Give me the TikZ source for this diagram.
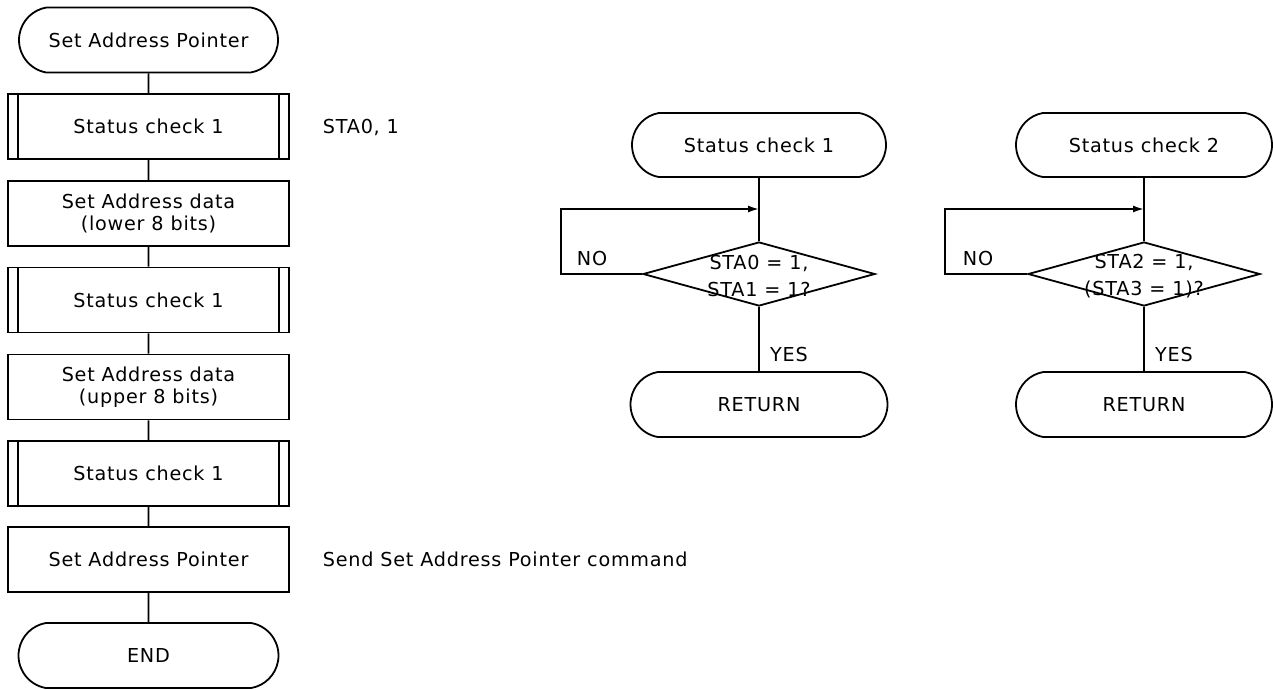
\documentclass[tikz,border=0pt]{standalone}
\usepackage{fontspec}
\setmainfont[LetterSpace=4]{DejaVu Sans}
\usetikzlibrary{shapes.misc,shapes.geometric,arrows.meta}
\begin{document}
\begin{tikzpicture}[x=1pt,y=-1pt,line width=1.8pt,
  every node/.style={font=\fontsize{19.2}{22.5}\selectfont},
  term/.style={draw,rounded rectangle,rounded rectangle arc length=160,minimum width=259pt,minimum height=65pt,inner sep=0pt},
  proc/.style={draw,rectangle,minimum width=281pt,minimum height=65pt,align=center,inner sep=0pt},
  dec/.style={draw,diamond,minimum width=232pt,minimum height=64pt,inner sep=0pt},
  lbl/.style={inner sep=0pt},
  arr/.style={-{Latex[length=11pt,width=7pt]}}]
\useasboundingbox (0,0) rectangle (1273,689);
% left chart
\node[term] (s) at (148.5,40) {Set Address Pointer};
\node[proc] (c1) at (148.5,126.5) {Status check 1};
\node[proc] (d1) at (148.5,213.5) {Set Address data\\(lower 8 bits)};
\node[proc] (c2) at (148.5,300) {Status check 1};
\node[proc] (d2) at (148.5,387) {Set Address data\\(upper 8 bits)};
\node[proc] (c3) at (148.5,473.5) {Status check 1};
\node[proc] (p) at (148.5,559.5) {Set Address Pointer};
\node[term,minimum width=260pt] (e) at (148.5,655.5) {END};
\foreach \n in {c1,c2,c3}{
  \draw ([xshift=11pt]\n.north west) -- ([xshift=11pt]\n.south west)
        ([xshift=-11pt]\n.north east) -- ([xshift=-11pt]\n.south east);
}
\draw (s) -- (c1) -- (d1) -- (c2) -- (d2) -- (c3) -- (p) -- (e);
\node[lbl,anchor=west] (a1) at (322,127) {STA0, 1};
\node[lbl,anchor=west] (a2) at (322,559.5) {Send Set Address Pointer command};
% status check 1
\node[term,minimum width=254pt,minimum height=64pt] (t1) at (759,145) {Status check 1};
\node[dec] (q1) at (759,274) {};
\node[lbl,align=center] (q1t) at (759,276) {STA0 = 1,\\[4pt]STA1 = 1?};
\node[term,minimum width=257pt] (r1) at (759,404.5) {RETURN};
\coordinate (j1) at (759,209);
\draw (t1) -- (q1) -- (r1);
\draw[arr] (q1.west) -- ++(-81,0) |- (j1);
\node[lbl] (n1) at (592,259) {NO};
\node[lbl] (y1) at (789,355) {YES};
% status check 2
\node[term,minimum width=256pt,minimum height=64pt] (t2) at (1144,145) {Status check 2};
\node[dec] (q2) at (1144,274) {};
\node[lbl,align=center] (q2t) at (1144,276) {STA2 = 1,\\[4pt](STA3 = 1)?};
\node[term,minimum width=256pt] (r2) at (1144,404.5) {RETURN};
\coordinate (j2) at (1144,209);
\draw (t2) -- (q2) -- (r2);
\draw[arr] (q2.west) -- ++(-82,0) |- (j2);
\node[lbl] (n2) at (978,259) {NO};
\node[lbl] (y2) at (1174,355) {YES};
\end{tikzpicture}
\end{document}
